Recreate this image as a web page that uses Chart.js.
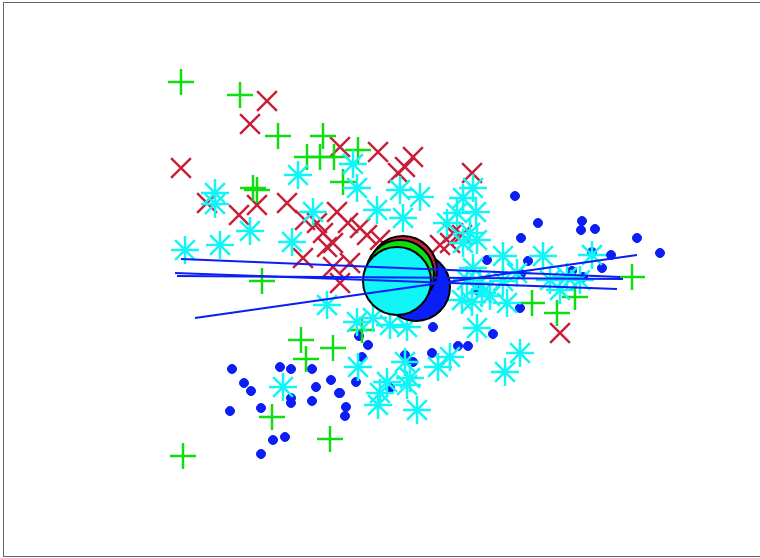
<!DOCTYPE html>
<html>
<head>
<meta charset="utf-8">
<script src="https://cdn.jsdelivr.net/npm/chart.js@4"></script>
<style>
  html, body { margin: 0; padding: 0; background: #fff; overflow: hidden; }
  #wrap { position: relative; width: 760px; height: 558px; }
  #frame { position: absolute; left: 3px; top: 2px; width: 780px; height: 553px;
           border: 1px solid #666; pointer-events: none; }
  canvas { position: absolute; left: 0; top: 0; }
</style>
</head>
<body>
<div id="wrap">
  <canvas id="chart" width="760" height="558"></canvas>
  <div id="frame"></div>
</div>
<script>
// plot units: x 0..760, y 0..558 (y grows downward)
const blueDots = [
  [515,196],[538,223],[582,221],[581,230],[595,229],[521,238],[637,238],[660,253],
  [528,261],[611,255],[592,252],[602,268],[572,271],[583,277],[487,260],[521,274],
  [477,290],[520,308],[433,327],[493,334],[458,346],[468,346],[432,353],[405,355],
  [413,362],[390,388],[368,345],[359,336],[362,357],[356,382],[340,393],[346,407],
  [345,416],[331,380],[316,387],[312,401],[312,369],[291,369],[280,367],[291,398],
  [291,403],[261,408],[230,411],[232,369],[244,383],[251,391],[273,440],[285,437],
  [261,454],[339,393]
]
const redCrosses = [
  [267,101],[250,124],[181,168],[340,147],[378,152],[413,157],[405,167],[398,173],
  [472,173],[207,203],[239,215],[257,205],[287,203],[317,223],[323,233],[305,220],
  [337,212],[348,223],[360,228],[367,235],[333,243],[303,258],[327,247],[333,267],
  [340,283],[440,245],[453,233],[450,243],[462,235],[560,333],[350,263],[380,240]
]
const greenPluses = [
  [181,82],[240,95],[278,136],[323,136],[307,157],[320,157],[334,157],[358,150],
  [343,182],[253,188],[257,190],[262,281],[301,340],[333,348],[306,359],[272,417],
  [330,439],[183,456],[362,330],[532,303],[557,313],[575,297],[632,277]
]
const cyanStars = [
  [353,164],[298,175],[357,188],[215,193],[215,204],[313,212],[377,210],[400,190],
  [420,197],[403,218],[447,223],[250,231],[292,242],[220,245],[185,250],[473,188],
  [463,198],[476,212],[457,213],[470,233],[477,240],[463,243],[503,256],[543,256],
  [592,255],[473,268],[480,283],[503,281],[517,273],[462,300],[472,302],[490,296],
  [507,303],[477,328],[390,325],[407,327],[373,318],[357,322],[327,305],[405,362],
  [438,367],[450,357],[520,353],[505,372],[410,378],[387,382],[358,367],[283,387],
  [380,393],[378,405],[417,410],[407,385],[560,290],[550,280],[567,277],[580,280],
  [467,280],[482,293]
]
// cluster centres
const centreBlue = [416,287]
const centreRed = [403,270]
const centreGreen = [400,274]
const centreCyan = [397,281]
// fitted lines (start, end)
const fitLines = [
  [[181,259],[620,277]],
  [[175,273],[617,289]],
  [[177,276],[623,279]],
  [[195,318],[637,255]]
]

const toXY = p => ({ x: p[0], y: p[1] })

const blue = '#0a1ef5'
const red = '#c8203a'
const green = '#10dd10'
const cyan = '#10f5f5'

function marks(data, style, color, radius, width, order) {
  return {
    type: 'scatter',
    data: data.map(toXY),
    pointStyle: style,
    pointRadius: radius,
    pointBackgroundColor: color,
    pointBorderColor: color,
    pointBorderWidth: width,
    order: order
  }
}

function centre(p, color, order) {
  return {
    type: 'scatter',
    data: [toXY(p)],
    pointStyle: 'circle',
    pointRadius: 34,
    pointBackgroundColor: color,
    pointBorderColor: '#000',
    pointBorderWidth: 2,
    order: order
  }
}

const datasets = [
  marks(blueDots, 'circle', blue, 4.5, 1, 100),
  marks(redCrosses, 'crossRot', red, 14, 2.5, 99),
  marks(greenPluses, 'cross', green, 13, 2.5, 98),
  marks(cyanStars, 'star', cyan, 14, 2.5, 97),
  centre(centreBlue, blue, 50),
  centre(centreRed, red, 49),
  centre(centreGreen, green, 48),
  centre(centreCyan, cyan, 47)
]
fitLines.forEach(l => {
  datasets.push({
    type: 'line',
    data: l.map(toXY),
    borderColor: blue,
    borderWidth: 2,
    pointRadius: 0,
    fill: false,
    order: 1
  })
})

new Chart(document.getElementById('chart'), {
  type: 'scatter',
  data: { datasets: datasets },
  options: {
    responsive: false,
    animation: false,
    layout: { padding: 0, autoPadding: false },
    plugins: { legend: { display: false }, tooltip: { enabled: false } },
    scales: {
      x: { type: 'linear', min: 0, max: 760, display: false },
      y: { type: 'linear', min: 0, max: 558, reverse: true, display: false }
    }
  }
})
</script>
</body>
</html>
